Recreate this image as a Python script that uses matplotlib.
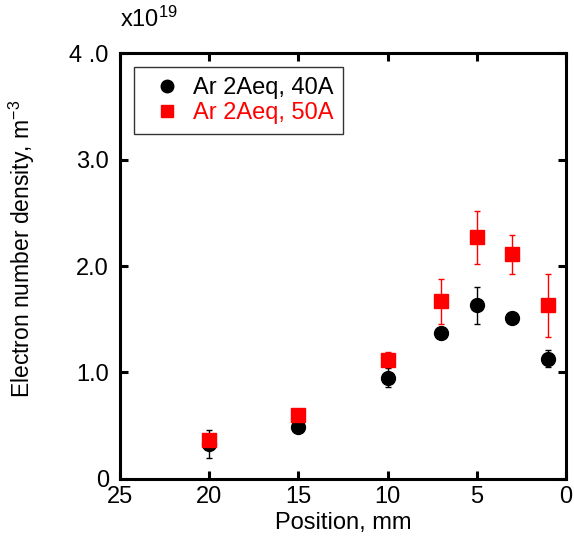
import matplotlib
matplotlib.use("Agg")
import matplotlib.pyplot as plt
from matplotlib.ticker import FixedLocator, FixedFormatter

plt.rcParams['font.family'] = ['Liberation Sans', 'DejaVu Sans']
plt.rcParams['mathtext.fontset'] = 'custom'
plt.rcParams['mathtext.rm'] = 'Liberation Sans'
plt.rcParams['mathtext.it'] = 'Liberation Sans'

# positions in mm, densities in units of 1e19 m^-3
pos = [20, 15, 10, 7, 5, 3, 1]
ne_40 = [0.33, 0.49, 0.95, 1.37, 1.63, 1.51, 1.13]
err_40 = [0.13, 0.03, 0.09, 0.03, 0.17, 0.03, 0.08]
ne_50 = [0.37, 0.60, 1.12, 1.67, 2.27, 2.11, 1.63]
err_50 = [0.05, 0.03, 0.07, 0.21, 0.25, 0.18, 0.30]

x_ticks = [25, 20, 15, 10, 5, 0]
y_ticks = [0, 1, 2, 3, 4]
y_labels = ["0", "1.0", "2.0", "3.0", "4 .0"]

fs = 17

fig = plt.figure(figsize=(5.74, 5.43), dpi=100)
ax = fig.add_axes([0.209, 0.118, 0.777, 0.784])

# error bars first, markers on top
ax.errorbar(pos, ne_40, yerr=err_40, fmt='none', ecolor='black',
            capsize=2.5, elinewidth=1, capthick=1)
ax.errorbar(pos, ne_50, yerr=err_50, fmt='none', ecolor='red',
            capsize=2.5, elinewidth=1, capthick=1)
ax.plot(pos, ne_40, 'o', color='black', ms=10, label='Ar 2Aeq, 40A')
ax.plot(pos, ne_50, 's', color='red', ms=10, label='Ar 2Aeq, 50A')

ax.set_xlim(25, 0)
ax.set_ylim(0, 4)
ax.xaxis.set_major_locator(FixedLocator(x_ticks))
ax.yaxis.set_major_locator(FixedLocator(y_ticks))
ax.yaxis.set_major_formatter(FixedFormatter(y_labels))
ax.tick_params(direction='in', length=6, width=2.2, top=True, right=True,
               labelsize=fs)
ax.tick_params(axis='y', pad=8)
ax.tick_params(axis='x', pad=5)
for s in ax.spines.values():
    s.set_linewidth(2.2)

ax.set_xlabel("Position, mm", fontsize=fs, labelpad=3)
ax.set_ylabel("Electron number density, m$^{-3}$", fontsize=16.5)
ax.yaxis.set_label_coords(-0.185, 0.54)
ax.text(0.0, 1.05, r"x10$^{19}$", transform=ax.transAxes, fontsize=fs,
        ha='left', va='bottom')

leg = ax.legend(loc='upper left', fontsize=fs, frameon=True, fancybox=False,
                edgecolor='black', handletextpad=0.1, borderaxespad=0.6,
                handlelength=2.0, markerscale=0.9, labelspacing=0.15)
leg.get_frame().set_linewidth(1.0)
leg.get_texts()[1].set_color('red')

fig.savefig("out.png", dpi=100)
